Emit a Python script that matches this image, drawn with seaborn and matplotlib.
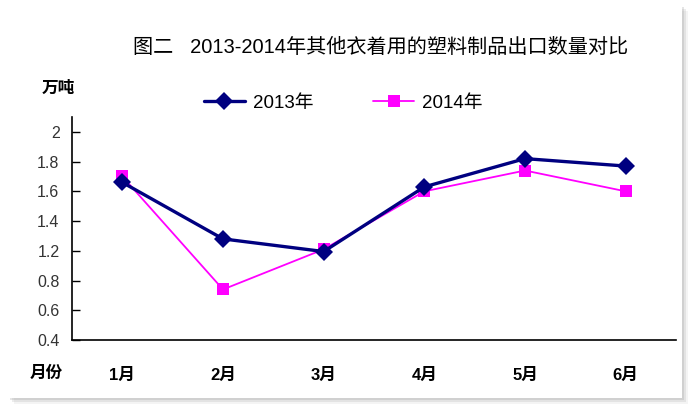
import numpy as np
import pandas as pd
import matplotlib
matplotlib.use("Agg")
import matplotlib.pyplot as plt
from matplotlib.patches import Rectangle
import seaborn as sns

# data (万吨)
months = ["1月", "2月", "3月", "4月", "5月", "6月"]
y2013 = [1.66, 1.28, 1.19, 1.63, 1.82, 1.77]
y2014 = [1.70, 0.74, 1.21, 1.60, 1.74, 1.60]
# the reference axis has evenly spaced ticks with no "1" label
ytick_vals = [0.4, 0.6, 0.8, 1.2, 1.4, 1.6, 1.8, 2.0]

sns.set_theme(style="white")
plt.rcParams["font.family"] = ["Liberation Sans", "Noto Sans CJK SC"]
plt.rcParams["text.color"] = "black"
plt.rcParams["xtick.color"] = "black"

df = pd.DataFrame({
    "month": months * 2,
    "value": y2013 + y2014,
    "year": ["2013年"] * 6 + ["2014年"] * 6,
})

fig = plt.figure(figsize=(6.91, 4.07), dpi=100)
fig.patch.set_facecolor("white")

# card with a soft shadow
for off, a in [(6, 0.10), (4, 0.18), (2, 0.25)]:
    fig.patches.append(Rectangle((8 / 691 + off / 691, 9 / 407 - off / 407), 674 / 691, 393 / 407,
                                 transform=fig.transFigure, color="#9a9a9a", alpha=a, lw=0, zorder=-3))
fig.patches.append(Rectangle((8 / 691, 9 / 407), 674 / 691, 393 / 407,
                             transform=fig.transFigure, color="white", lw=0, zorder=-2))

ax = fig.add_axes([72 / 691, 1 - 340 / 407, 604 / 691, 223 / 407])
ax.set_facecolor("none")

# piecewise scale so the ticks sit evenly like the reference
scale_vals = ytick_vals + [2.2]
scale_idx = list(range(len(scale_vals)))
ax.set_yscale("function", functions=(lambda v: np.interp(v, scale_vals, scale_idx),
                                     lambda i: np.interp(i, scale_idx, scale_vals)))

sns.lineplot(data=df[df.year == "2014年"], x="month", y="value", ax=ax,
             color="#FF00FF", marker="s", markersize=9, markeredgewidth=0,
             linewidth=1.3, label="2014年", zorder=3)
sns.lineplot(data=df[df.year == "2013年"], x="month", y="value", ax=ax,
             color="#000080", marker="D", markersize=9, markeredgewidth=0,
             linewidth=2.4, label="2013年", zorder=4)

ax.set_xlim(-0.5, 5.5)
ax.set_ylim(0.4, 2.1)
ax.set_yticks(ytick_vals)
ax.set_yticklabels(["%g" % v for v in ytick_vals], color="#333333", fontsize=11.5)
ax.set_xticks(range(6))
ax.set_xticklabels(months, fontsize=12, fontweight="bold")
ax.set_xticks(np.arange(0.5, 6, 1), minor=True)
ax.tick_params(axis="x", which="major", length=0, pad=20)
ax.tick_params(axis="x", which="minor", direction="in", length=6, width=1, color="black")
ax.tick_params(axis="y", direction="in", length=6, width=1, color="black", pad=9, left=True)
ax.set_xlabel("")
ax.set_ylabel("")
for s in ["top", "right"]:
    ax.spines[s].set_visible(False)
for s in ["left", "bottom"]:
    ax.spines[s].set_color("black")
    ax.spines[s].set_linewidth(1.2)

handles, labels = ax.get_legend_handles_labels()
ax.get_legend().remove()
order = [labels.index("2013年"), labels.index("2014年")]
fig.legend([handles[i] for i in order], [labels[i] for i in order],
           loc="center", bbox_to_anchor=(343 / 691, 1 - 103 / 407), ncol=2,
           frameon=False, fontsize=13.5, handlelength=2.2, handletextpad=0.4,
           columnspacing=3.2)

fig.text(381 / 691, 1 - 47 / 407, "图二   2013-2014年其他衣着用的塑料制品出口数量对比",
         ha="center", va="center", fontsize=14.5, fontweight="medium", color="black")
fig.text(58 / 691, 1 - 88 / 407, "万吨", ha="center", va="center",
         fontsize=12, fontweight="bold")
fig.text(46 / 691, 1 - 373 / 407, "月份", ha="center", va="center",
         fontsize=12, fontweight="bold")

fig.savefig("out.png", dpi=100)
